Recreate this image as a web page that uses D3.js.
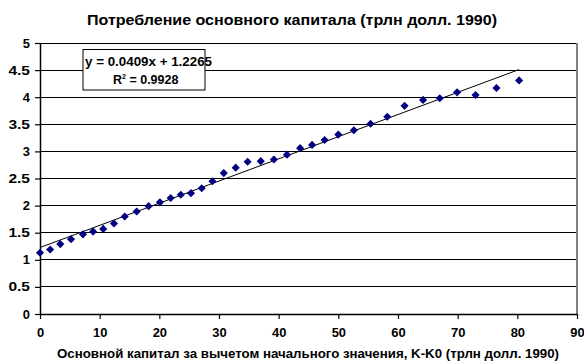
<!DOCTYPE html>
<html>
<head>
<meta charset="utf-8">
<script src="https://cdn.jsdelivr.net/npm/d3@7"></script>
<style>
  html, body { margin: 0; padding: 0; background: #fff; }
  svg { display: block; }
  svg text { font-family: "Liberation Sans", Arial, sans-serif; font-weight: 700; fill: #000; }
</style>
</head>
<body>
<svg id="chart" width="584" height="361"></svg>
<script>
// Net capital stock above initial level, K-K0 (trillion 1990 dollars)
const capitalNet = [0, 1.7, 3.4, 5.2, 7.2, 8.9, 10.6, 12.4, 14.2, 16.2, 18.2, 20.1, 21.9, 23.6,
  25.3, 27.1, 28.9, 30.8, 32.8, 34.8, 37.0, 39.2, 41.4, 43.6, 45.6, 47.7, 50.0, 52.6,
  55.4, 58.2, 61.1, 64.2, 67.0, 69.9, 73.0, 76.5, 80.3];
// Fixed capital consumption (trillion 1990 dollars)
const consumption = [1.13, 1.19, 1.29, 1.38, 1.47, 1.52, 1.57, 1.67, 1.80, 1.89, 1.99, 2.06,
  2.14, 2.20, 2.23, 2.32, 2.45, 2.60, 2.70, 2.81, 2.82, 2.85, 2.94, 3.06, 3.12, 3.21,
  3.31, 3.39, 3.51, 3.64, 3.84, 3.95, 3.98, 4.09, 4.04, 4.17, 4.31];
// Linear trend coefficients
const trendSlope = 0.0409;
const trendIntercept = 1.2265;
const trendR2 = 0.9928;
const xTicks = [0, 10, 20, 30, 40, 50, 60, 70, 80, 90];
const yTicks = [0, 0.5, 1, 1.5, 2, 2.5, 3, 3.5, 4, 4.5, 5];

const titleText = "Потребление основного капитала (трлн долл. 1990)";
const xTitleText = "Основной капитал за вычетом начального значения, K-K0 (трлн долл. 1990)";

const svg = d3.select("#chart");
const plotLeft = 40, plotRight = 577, plotTop = 43, plotBottom = 314;

const x = d3.scaleLinear().domain([0, 90]).range([plotLeft, plotRight]);
const y = d3.scaleLinear().domain([0, 5]).range([plotBottom, plotTop]);

// Gridlines
svg.append("g")
  .selectAll("line")
  .data(yTicks.filter(d => d > 0))
  .join("line")
  .attr("x1", plotLeft).attr("x2", plotRight)
  .attr("y1", d => y(d)).attr("y2", d => y(d))
  .attr("stroke", "#000").attr("stroke-width", 1)
  .attr("shape-rendering", "crispEdges");

// Right border
svg.append("line")
  .attr("x1", plotRight).attr("x2", plotRight).attr("y1", plotTop).attr("y2", plotBottom)
  .attr("stroke", "#808080").attr("stroke-width", 1.5)
  .attr("shape-rendering", "crispEdges");

// Axes
const xAxis = d3.axisBottom(x).tickValues(xTicks).tickFormat(d3.format("d")).tickSize(5).tickSizeOuter(0);
const yAxis = d3.axisLeft(y).tickValues(yTicks).tickFormat(d => String(d)).tickSize(5).tickSizeOuter(0);

const gx = svg.append("g").attr("transform", `translate(0,${plotBottom})`).call(xAxis);
const gy = svg.append("g").attr("transform", `translate(${plotLeft},0)`).call(yAxis);

[gx, gy].forEach(g => {
  g.attr("font-family", null).attr("font-size", null);
  g.select(".domain").attr("stroke", "#000").attr("stroke-width", 1.5);
  g.selectAll(".tick line").attr("stroke", "#000").attr("stroke-width", 1.2);
  g.selectAll(".tick text").style("font-size", "12.5px")
    .attr("textLength", d => String(d).length * 7.2)
    .attr("lengthAdjust", "spacingAndGlyphs");
});
gx.selectAll(".tick text").attr("y", 14).attr("dy", "0.71em");
gy.selectAll(".tick text").attr("x", -10);

// Trend line over the data range
const xmin = d3.min(capitalNet), xmax = d3.max(capitalNet);
svg.append("line")
  .attr("x1", x(xmin)).attr("y1", y(trendIntercept + trendSlope * xmin))
  .attr("x2", x(xmax)).attr("y2", y(trendIntercept + trendSlope * xmax))
  .attr("stroke", "#000").attr("stroke-width", 1);

// Diamond markers
const diamond = d3.symbol().type(d3.symbolDiamond2).size(42);
svg.append("g")
  .selectAll("path")
  .data(capitalNet.map((v, i) => [v, consumption[i]]))
  .join("path")
  .attr("d", diamond)
  .attr("transform", d => `translate(${x(d[0])},${y(d[1])})`)
  .attr("fill", "#000080");

// Trend equation box
const box = svg.append("g");
box.append("rect")
  .attr("x", 83).attr("y", 49.5).attr("width", 122).attr("height", 40.5)
  .attr("fill", "#fff").attr("stroke", "#000").attr("stroke-width", 1);
box.append("text")
  .attr("x", 85).attr("y", 66)
  .style("font-size", "12.5px")
  .attr("textLength", 127).attr("lengthAdjust", "spacingAndGlyphs")
  .text(`y = ${trendSlope}x + ${trendIntercept}`);
const r2 = box.append("text")
  .attr("x", 113).attr("y", 84)
  .style("font-size", "12.5px");
r2.append("tspan").text("R");
r2.append("tspan").style("font-size", "7px").attr("dy", -5).text("2");
r2.append("tspan").attr("dy", 5).text(` = ${trendR2}`);

// Titles
svg.append("text")
  .attr("x", 87).attr("y", 25)
  .style("font-size", "14px")
  .attr("textLength", 410).attr("lengthAdjust", "spacingAndGlyphs")
  .text(titleText);
svg.append("text")
  .attr("x", 57).attr("y", 358)
  .style("font-size", "13.5px")
  .attr("textLength", 502).attr("lengthAdjust", "spacingAndGlyphs")
  .text(xTitleText);
</script>
</body>
</html>
